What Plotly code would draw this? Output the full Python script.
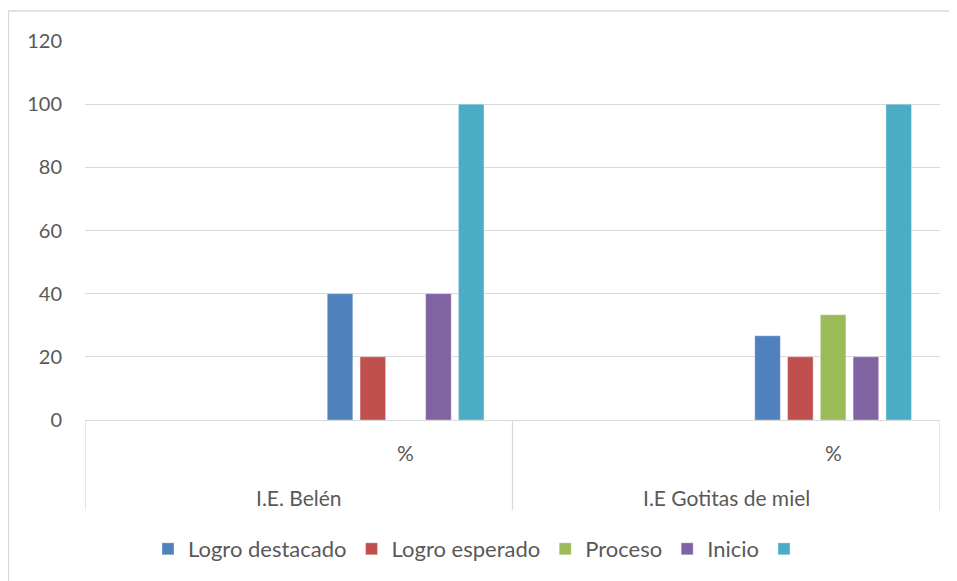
import plotly.graph_objects as go

# ---- data ----
groups = ["I.E. Belén", "I.E Gotitas de miel"]
subcats = ["", "%"]
series_names = ["Logro destacado", "Logro esperado", "Proceso", "Inicio", ""]
logro_destacado = [40, 26.67]
logro_esperado = [20, 20]
proceso = [0, 33.33]
inicio = [40, 20]
total = [100, 100]
y_ticks = [0, 20, 40, 60, 80, 100, 120]

colors = ["#4F81BD", "#C0504D", "#9BBB59", "#8064A2", "#4BACC6"]
values = [logro_destacado, logro_esperado, proceso, inicio, total]

font_family = "Lato, 'Open Sans', sans-serif"
txt_color = "#595959"
grid_color = "#D9D9D9"

keys = [f"{g}|{s}" for g in groups for s in subcats]
bar_x = [f"{g}|%" for g in groups]

fig = go.Figure()
for name, vals, col in zip(series_names, values, colors):
    fig.add_trace(go.Bar(
        x=bar_x, y=vals, name=name,
        marker=dict(color=col, line=dict(color="rgba(255,255,255,0.35)", width=1)),
    ))

OFF = 8  # page body margin
W, H = 957, 581
L, R, T, B = 77, 25, 33, 169
pw, ph = W - L - R, H - T - B

def py(screen_y):
    return (H - B - (screen_y - OFF)) / ph

def px(screen_x):
    return ((screen_x - OFF) - L) / pw

lab_size = 21
annotations = []
for gi, g in enumerate(groups):
    for si, s in enumerate(subcats):
        if s:
            annotations.append(dict(x=keys[gi * 2 + si], y=py(452), xref="x", yref="paper",
                                    text=s, showarrow=False, yanchor="middle", xanchor="center",
                                    font=dict(size=lab_size, color=txt_color, family=font_family)))
    annotations.append(dict(x=gi * 2 + 0.5, y=py(497), xref="x", yref="paper",
                            text=g, showarrow=False, yanchor="middle", xanchor="center",
                            font=dict(size=lab_size, color=txt_color, family=font_family)))

shapes = []
for xb in [-0.5, 1.5, 3.5]:
    shapes.append(dict(type="line", xref="x", yref="paper", x0=xb, x1=xb,
                       y0=0, y1=py(510), line=dict(color=grid_color, width=1.3)))
shapes.append(dict(type="rect", xref="paper", yref="paper",
                   x0=px(8.5), x1=px(990), y0=py(11), y1=py(640),
                   line=dict(color=grid_color, width=1.3)))

fig.update_layout(
    width=W, height=H,
    margin=dict(l=L, r=R, t=T, b=B),
    paper_bgcolor="white", plot_bgcolor="white",
    barmode="group", bargap=0.233, bargroupgap=0.22,
    font=dict(family=font_family, color=txt_color, size=lab_size),
    xaxis=dict(type="category", categoryorder="array", categoryarray=keys,
               range=[-0.5, 3.5], showticklabels=False, showgrid=False,
               showline=True, linecolor=grid_color, linewidth=1.3, ticks="",
               zeroline=False),
    yaxis=dict(range=[0, 120], tickvals=y_ticks, showgrid=True, gridcolor=grid_color,
               gridwidth=1.3, zeroline=False, showline=False, ticks="",
               ticklabelstandoff=22, tickfont=dict(size=20, color=txt_color)),
    legend=dict(orientation="h", x=px(148), xanchor="left", y=py(549), yanchor="middle",
                font=dict(size=22, color=txt_color), itemwidth=30,
                bgcolor="rgba(0,0,0,0)"),
    annotations=annotations,
    shapes=shapes,
)

fig.write_html("out.html")
